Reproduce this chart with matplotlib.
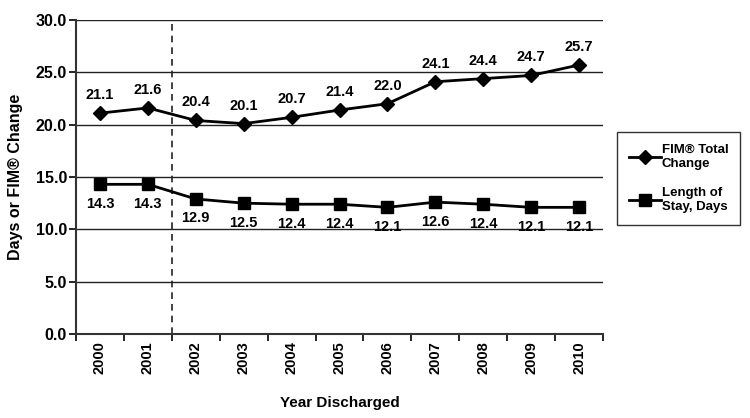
import matplotlib
matplotlib.use("Agg")
import matplotlib.pyplot as plt
import numpy as np

plt.rcParams['font.family'] = ['Liberation Sans', 'DejaVu Sans']
plt.rcParams['font.weight'] = 'bold'

years = ["2000", "2001", "2002", "2003", "2004", "2005", "2006", "2007", "2008", "2009", "2010"]
fim_change = [21.1, 21.6, 20.4, 20.1, 20.7, 21.4, 22.0, 24.1, 24.4, 24.7, 25.7]
length_of_stay = [14.3, 14.3, 12.9, 12.5, 12.4, 12.4, 12.1, 12.6, 12.4, 12.1, 12.1]

fig = plt.figure(figsize=(7.5, 4.18), dpi=100)
ax = fig.add_axes([76 / 750, 1 - 334 / 418, (603 - 76) / 750, (334 - 20) / 418])

x = np.arange(len(years))

# lignes de grille
for yv in np.arange(5, 31, 5):
    ax.axhline(yv, color="#222222", lw=1.0, zorder=1)
ax.axvline(1.5, color="#222222", lw=1.2, ls=(0, (4, 3)), zorder=1)

l1, = ax.plot(x, fim_change, color="black", lw=2, marker="D", ms=7.5, zorder=3,
              label="FIM® Total\nChange")
l2, = ax.plot(x, length_of_stay, color="black", lw=2, marker="s", ms=8.5, zorder=3,
              label="Length of\nStay, Days")

for xi, v in zip(x, fim_change):
    ax.annotate(f"{v:.1f}", (xi, v), xytext=(0, 8), textcoords="offset points",
                ha="center", va="bottom", fontsize=10.5, fontweight="bold")
for xi, v in zip(x, length_of_stay):
    ax.annotate(f"{v:.1f}", (xi, v), xytext=(0, -9), textcoords="offset points",
                ha="center", va="top", fontsize=10.5, fontweight="bold")

ax.set_xlim(-0.5, len(years) - 0.5)
ax.set_ylim(0, 30)
ax.set_yticks(np.arange(0, 31, 5))
ax.set_yticklabels([f"{v:.1f}" for v in np.arange(0, 31, 5)], fontsize=11.5, fontweight="bold")
ax.set_xticks(np.arange(-0.5, len(years), 1))
ax.set_xticklabels([])
ax.set_xticks(x, minor=True)
ax.set_xticklabels(years, minor=True, rotation=90, fontsize=10.5, fontweight="bold")
ax.tick_params(axis="x", which="minor", length=0, pad=5)
ax.tick_params(axis="x", which="major", length=5, width=1.2, direction="out")
ax.tick_params(axis="y", length=5, width=1.2, direction="out", pad=1.5)

for s in ["top", "right"]:
    ax.spines[s].set_visible(False)
ax.spines["left"].set_linewidth(1.5)
ax.spines["bottom"].set_linewidth(1.5)
ax.spines["left"].set_color("#333333")
ax.spines["bottom"].set_color("#333333")

ax.set_ylabel("Days or FIM® Change", fontsize=11.5, fontweight="bold", labelpad=9)
ax.set_xlabel("Year Discharged", fontsize=11, fontweight="bold", labelpad=16)

leg = fig.legend(handles=[l1, l2], loc="upper left", bbox_to_anchor=(617 / 750, 1 - 132 / 418),
                 borderaxespad=0, frameon=True, fancybox=False, edgecolor="black", fontsize=9.5,
                 handlelength=2.4, labelspacing=1.3, borderpad=0.9, handletextpad=0.1)
leg.get_frame().set_linewidth(1.0)
for t in leg.get_texts():
    t.set_fontweight("bold")

fig.savefig("out.png", dpi=100)
